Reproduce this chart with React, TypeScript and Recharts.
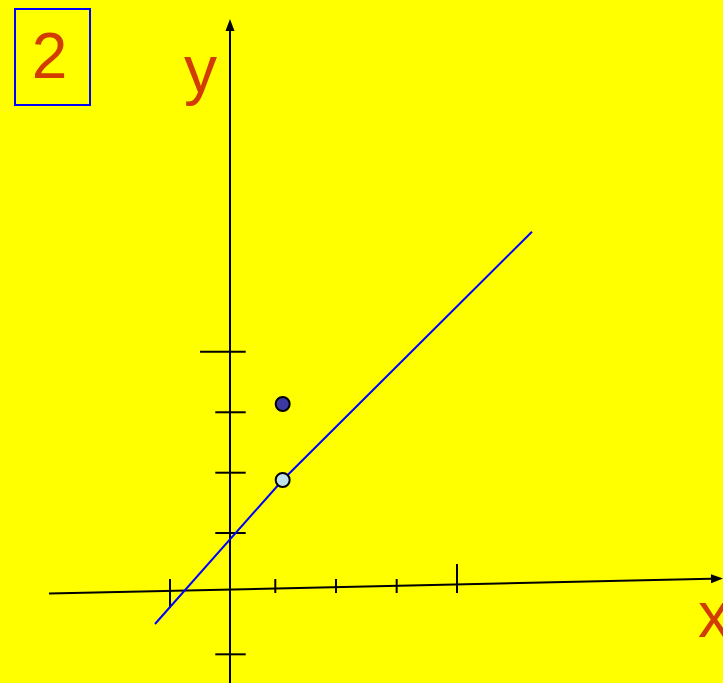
import React from "react";
import {
  ComposedChart,
  XAxis,
  YAxis,
  Line,
  Scatter,
  ReferenceLine,
  ReferenceDot,
  ReferenceArea,
} from "recharts";

// Coordinate units: origin where the axes cross, 1 unit = one grid step
const xAxisLine = [
  { x: -3.017, y: -0.058 },
  { x: 8.217, y: 0.19 },
];
const yAxisLine = [
  { x: 0, y: -1.55 },
  { x: 0, y: 9.517 },
];

// x-axis tick marks: position and vertical extent
const xTickPos = [-1.0, 0.755, 1.767, 2.778, 3.783];
const xTickTop = [0.183, 0.183, 0.183, 0.183, 0.433];
const xTickBottom = [-0.295, -0.05, -0.05, -0.05, -0.05];

// y-axis tick marks: position and horizontal extent
const yTickPos = [3.972, 2.962, 1.955, 0.95, -1.072];
const yTickLeft = [-0.5, -0.245, -0.245, -0.245, -0.245];
const yTickRight = [0.262, 0.262, 0.262, 0.262, 0.262];

// the blue line
const lineData = [
  { x: -1.25, y: -0.567 },
  { x: 0.878, y: 1.833 },
  { x: 5.033, y: 5.972 },
];

// points
const filledPoint = [{ x: 0.878, y: 3.1 }];
const openPoint = [{ x: 0.878, y: 1.833 }];

// labels
const boxLabel = "2";
const yLabel = "y";
const xLabel = "x";
const boxCorners = { x1: -3.583, x2: -2.333, y1: 9.683, y2: 8.083 };
const boxLabelPos = { x: -3.008, y: 8.533 };
const yLabelPos = { x: -0.767, y: 8.3 };
const xLabelPos = { x: 7.8, y: -0.778 };

const X_DOMAIN: [number, number] = [-3.8333, 8.2167];
const Y_DOMAIN: [number, number] = [-1.55, 9.8333];

const TEXT_COLOR = "#d23c00";

const arrowLine =
  (dir: "end") =>
  (p: any) => {
    const { x1, y1, x2, y2 } = p;
    const dx = x2 - x1;
    const dy = y2 - y1;
    const len = Math.sqrt(dx * dx + dy * dy);
    const ux = dx / len;
    const uy = dy / len;
    const L = 12;
    const W = 4.5;
    const bx = x2 - ux * L;
    const by = y2 - uy * L;
    const px = -uy;
    const py = ux;
    return (
      <g>
        <line x1={x1} y1={y1} x2={bx} y2={by} stroke="#000" strokeWidth={2} />
        <polygon
          points={`${x2},${y2} ${bx + px * W},${by + py * W} ${bx - px * W},${by - py * W}`}
          fill="#000"
        />
      </g>
    );
  };

const textShape = (label: string, size: number, anchor: "start" | "middle") => (p: any) => (
  <text
    x={p.cx}
    y={p.cy}
    fill={TEXT_COLOR}
    fontSize={size}
    fontFamily="'Liberation Sans', Arial, sans-serif"
    textAnchor={anchor}
  >
    {label}
  </text>
);

export default function App() {
  return (
    <div
      style={{
        position: "absolute",
        left: 0,
        top: 0,
        width: 723,
        height: 683,
        background: "#ffff00",
        overflow: "hidden",
      }}
    >
      <ComposedChart
        width={723}
        height={683}
        margin={{ top: 0, right: 0, bottom: 0, left: 0 }}
      >
        <XAxis
          type="number"
          dataKey="x"
          domain={X_DOMAIN}
          allowDataOverflow
          hide
        />
        <YAxis
          type="number"
          dataKey="y"
          domain={Y_DOMAIN}
          allowDataOverflow
          hide
        />

        <ReferenceArea
          x1={boxCorners.x1}
          x2={boxCorners.x2}
          y1={boxCorners.y1}
          y2={boxCorners.y2}
          fill="none"
          fillOpacity={0}
          stroke="#0000ff"
          strokeWidth={2}
          ifOverflow="visible"
        />

        <ReferenceLine
          segment={xAxisLine}
          ifOverflow="visible"
          shape={arrowLine("end")}
        />
        <ReferenceLine
          segment={yAxisLine}
          ifOverflow="visible"
          shape={arrowLine("end")}
        />

        {xTickPos.map((x, i) => (
          <ReferenceLine
            key={"xt" + i}
            segment={[
              { x, y: xTickBottom[i] },
              { x, y: xTickTop[i] },
            ]}
            stroke="#000"
            strokeWidth={2}
            ifOverflow="visible"
          />
        ))}
        {yTickPos.map((y, i) => (
          <ReferenceLine
            key={"yt" + i}
            segment={[
              { x: yTickLeft[i], y },
              { x: yTickRight[i], y },
            ]}
            stroke="#000"
            strokeWidth={2}
            ifOverflow="visible"
          />
        ))}

        <Line
          data={lineData}
          dataKey="y"
          type="linear"
          stroke="#0000ff"
          strokeWidth={2}
          dot={false}
          activeDot={false}
          isAnimationActive={false}
        />

        <Scatter
          data={filledPoint}
          dataKey="y"
          isAnimationActive={false}
          shape={(p: any) => (
            <circle cx={p.cx} cy={p.cy} r={7} fill="#3a3aa2" stroke="#000" strokeWidth={2} />
          )}
        />
        <Scatter
          data={openPoint}
          dataKey="y"
          isAnimationActive={false}
          shape={(p: any) => (
            <circle cx={p.cx} cy={p.cy} r={7} fill="#bfe3e8" stroke="#000" strokeWidth={2} />
          )}
        />

        <ReferenceDot
          x={boxLabelPos.x}
          y={boxLabelPos.y}
          ifOverflow="visible"
          shape={textShape(boxLabel, 64, "middle")}
        />
        <ReferenceDot
          x={yLabelPos.x}
          y={yLabelPos.y}
          ifOverflow="visible"
          shape={textShape(yLabel, 66, "start")}
        />
        <ReferenceDot
          x={xLabelPos.x}
          y={xLabelPos.y}
          ifOverflow="visible"
          shape={textShape(xLabel, 64, "start")}
        />
      </ComposedChart>
    </div>
  );
}
